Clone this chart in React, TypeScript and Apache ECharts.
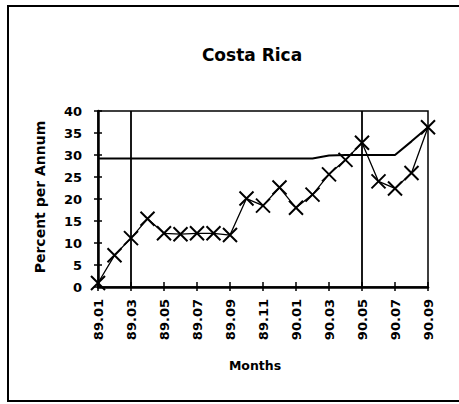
import React, { useEffect, useRef } from "react";
import * as echarts from "echarts";

const months = [
  "89.01", "89.02", "89.03", "89.04", "89.05", "89.06", "89.07", "89.08", "89.09", "89.10", "89.11", "89.12",
  "90.01", "90.02", "90.03", "90.04", "90.05", "90.06", "90.07", "90.08", "90.09",
];
const rateValues = [0.9, 7.2, 11.1, 15.5, 12.2, 12, 12.2, 12.2, 11.8, 20.1, 18.5, 22.6, 18, 21, 25.6, 28.9, 32.8, 24, 22.4, 25.9, 36.3];
const bandValues = [29.2, 29.2, 29.2, 29.2, 29.2, 29.2, 29.2, 29.2, 29.2, 29.2, 29.2, 29.2, 29.2, 29.2, 29.9, 30, 30, 30, 30, 33.1, 36.3];
const markerMonths = ["89.03", "90.05"];
const title = "Costa Rica";
const yName = "Percent per Annum";
const xName = "Months";

const FONT = "DejaVu Sans";

export default function App() {
  const ref = useRef<HTMLDivElement>(null);
  useEffect(() => {
    if (!ref.current) return;
    const chart = echarts.init(ref.current, null, { renderer: "svg" });
    const xBase = {
      type: "category",
      data: months,
      boundaryGap: false,
      position: "bottom",
    };
    chart.setOption({
      animation: false,
      backgroundColor: "#fff",
      grid: { left: 98, right: 31, top: 111, bottom: 117, show: true, borderColor: "#000", borderWidth: 1.5 },
      xAxis: [
        {
          ...xBase,
          axisLine: { lineStyle: { color: "#000", width: 2.5 } },
          axisTick: { inside: true, interval: 1, length: 5, lineStyle: { color: "#000", width: 1.5 } },
          axisLabel: {
            interval: 1,
            rotate: 90,
            margin: 12,
            color: "#000",
            fontFamily: FONT,
            fontWeight: "bold",
            fontSize: 13,
          },
          splitLine: { show: false },
        },
        {
          ...xBase,
          axisLine: { show: false },
          axisTick: { inside: false, interval: 1, length: 4, lineStyle: { color: "#000", width: 1.5 } },
          axisLabel: { show: false },
          splitLine: { show: false },
        },
      ],
      yAxis: [
        {
          type: "value",
          min: 0,
          max: 40,
          interval: 5,
          axisLine: { show: true, lineStyle: { color: "#000", width: 2.5 } },
          axisTick: { show: true, inside: true, length: 4, lineStyle: { color: "#000", width: 1.5 } },
          axisLabel: { margin: 16, color: "#000", fontFamily: FONT, fontWeight: "bold", fontSize: 13 },
          splitLine: { show: false },
        },
        {
          type: "value",
          min: 0,
          max: 40,
          interval: 5,
          position: "left",
          offset: 0,
          axisLine: { show: false },
          axisTick: { show: true, inside: false, length: 4, lineStyle: { color: "#000", width: 1.5 } },
          axisLabel: { show: false },
          splitLine: { show: false },
        },
      ],
      graphic: [
        {
          type: "rect",
          shape: { x: 8, y: 6, width: 480, height: 395 },
          style: { fill: "none", stroke: "#000", lineWidth: 2 },
          silent: true,
        },
        {
          type: "text",
          x: 252,
          y: 55,
          style: {
            text: title,
            fontFamily: FONT,
            fontWeight: "bold",
            fontSize: 17,
            fill: "#000",
            align: "center",
            verticalAlign: "middle",
          },
        },
        {
          type: "text",
          x: 40,
          y: 197,
          rotation: Math.PI / 2,
          style: {
            text: yName,
            fontFamily: FONT,
            fontWeight: "bold",
            fontSize: 14,
            fill: "#000",
            align: "center",
            verticalAlign: "middle",
          },
        },
        {
          type: "text",
          x: 255,
          y: 365,
          style: {
            text: xName,
            fontFamily: FONT,
            fontWeight: "bold",
            fontSize: 12.5,
            fill: "#000",
            align: "center",
            verticalAlign: "middle",
          },
        },
      ],
      series: [
        {
          type: "line",
          data: bandValues,
          showSymbol: false,
          symbol: "none",
          lineStyle: { color: "#000", width: 2 },
          z: 2,
          markLine: {
            silent: true,
            symbol: "none",
            label: { show: false },
            lineStyle: { color: "#000", width: 1.8, type: "solid" },
            data: markerMonths.map((m) => ({ xAxis: m })),
          },
        },
        {
          type: "line",
          data: rateValues,
          symbol: "path://M0 0L10 10M10 0L0 10",
          symbolSize: 14,
          showAllSymbol: true,
          itemStyle: { color: "#000", borderColor: "#000", borderWidth: 2 },
          lineStyle: { color: "#000", width: 1.3 },
          z: 3,
        },
      ],
    });
    return () => chart.dispose();
  }, []);
  return <div ref={ref} style={{ position: "fixed", left: 0, top: 0, width: 459, height: 404 }} />;
}
